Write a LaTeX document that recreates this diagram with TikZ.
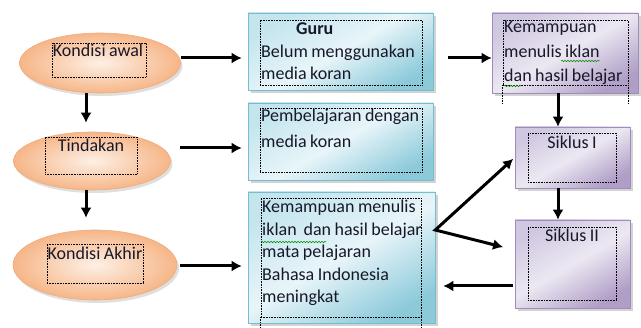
\documentclass[tikz,border=0pt]{standalone}
\usepackage{fontspec}
\setmainfont{Carlito}[WordSpace=0.85]
\usepackage{tikz}
\usetikzlibrary{shapes.geometric}
\usetikzlibrary{shadows}
\usetikzlibrary{decorations.pathmorphing}
\usetikzlibrary{%
  calc,%
  arrows.meta%
}

\definecolor{oranyeluar}{RGB}{246,182,136}
\definecolor{oranyedalam}{RGB}{253,240,230}
\definecolor{oranyegaris}{RGB}{240,172,124}
\definecolor{birutua}{RGB}{140,202,218}
\definecolor{birumuda}{RGB}{232,245,249}
\definecolor{birutengah}{RGB}{196,229,238}
\definecolor{birugaris}{RGB}{120,188,208}
\definecolor{ungutua}{RGB}{176,158,199}
\definecolor{ungumuda}{RGB}{236,232,242}
\definecolor{ungutengah}{RGB}{208,199,224}
\definecolor{ungugaris}{RGB}{160,140,188}
\definecolor{teks}{RGB}{24,24,40}

\tikzset{
  kondisi/.style={ellipse, draw=oranyegaris, line width=0.6pt,
    inner color=oranyedalam, outer color=oranyeluar,
    drop shadow={shadow xshift=2pt, shadow yshift=-3pt, opacity=0.25}},
  kotakbiru/.style={rectangle, draw=birugaris, line width=0.6pt,
    left color=birutengah, right color=birutua, middle color=birumuda,
    shading angle=30,
    drop shadow={shadow xshift=3pt, shadow yshift=-3pt, opacity=0.35}},
  kotakungu/.style={rectangle, draw=ungugaris, line width=0.6pt,
    left color=ungutengah, right color=ungutua, middle color=ungumuda,
    shading angle=30,
    drop shadow={shadow xshift=3pt, shadow yshift=-3pt, opacity=0.35}},
  bingkai/.style={rectangle, draw=black, densely dotted, line width=0.6pt},
  tulisan/.style={inner sep=0pt, text=teks, font=\fontsize{18}{22.5}\selectfont},
  panah/.style={line width=3pt, line join=miter, -{Latex[length=10pt,width=11pt]}},
  ejaan/.style={draw=green!55!black, line width=0.5pt, decorate,
    decoration={snake, amplitude=0.8pt, segment length=3pt}}
}

\begin{document}
\begin{tikzpicture}[x=1pt,y=-1pt]
\useasboundingbox (0,0) rectangle (641,328);

\node[kondisi, minimum width=161pt, minimum height=60pt] (awal) at (100,63) {};
\node[bingkai, minimum width=94pt, minimum height=34pt] (awalbingkai) at (99,60) {};
\node[tulisan, anchor=base] (awalteks) at (98,57) {Kondisi awal};

\node[kondisi, minimum width=157pt, minimum height=58pt] (tindakan) at (92,161) {};
\node[bingkai, minimum width=92pt, minimum height=37pt] (tindakanbingkai) at (91,155.5) {};
\node[tulisan, anchor=base] (tindakanteks) at (91,152) {Tindakan};

\node[kondisi, minimum width=164pt, minimum height=70pt] (akhir) at (95,265) {};
\node[bingkai, minimum width=96pt, minimum height=39pt] (akhirbingkai) at (95,263.5) {};
\node[tulisan, anchor=base] (akhirteks) at (95,260) {Kondisi Akhir};

\node[kotakbiru, minimum width=185pt, minimum height=77pt] (guru) at (340.5,51.5) {};
\node[bingkai, minimum width=162pt, minimum height=65pt] (gurubingkai) at (341,52.5) {};
\node[tulisan, anchor=base west, text width=220pt, align=flush left] (guruteks) at (261,35)
  {\hspace*{35pt}\textbf{Guru}\\Belum menggunakan\\media koran};

\node[kotakbiru, minimum width=185pt, minimum height=77pt] (pembelajaran) at (340.5,141.5) {};
\node[bingkai, minimum width=162pt, minimum height=64pt] (pembelajaranbingkai) at (341,140) {};
\node[tulisan, anchor=base west, text width=220pt, align=flush left,
  font=\fontsize{18}{26}\selectfont] (pembelajaranteks) at (261,122)
  {Pembelajaran dengan\\media koran};

\node[kotakbiru, minimum width=187pt, minimum height=131pt] (hasil) at (341.5,257.5) {};
\node[bingkai, minimum width=160pt, minimum height=119pt] (hasilbingkai) at (341,257.5) {};
\draw[bingkai] (hasilbingkai.south west) -- ++(0,15);
\draw[bingkai] (hasilbingkai.south east) -- ++(0,15);
\node[tulisan, anchor=base west, text width=220pt, align=flush left] (hasilteks) at (262,213)
  {Kemampuan menulis\\iklan \ dan hasil belajar\\mata pelajaran\\Bahasa Indonesia\\meningkat};

\node[kotakungu, minimum width=146pt, minimum height=80pt] (kemampuan) at (565,53) {};
\node[bingkai, minimum width=125pt, minimum height=65pt] (kemampuanbingkai) at (565.5,52.5) {};
\draw[bingkai] (kemampuanbingkai.south west) -- ++(0,18);
\draw[bingkai] (kemampuanbingkai.south east) -- ++(0,18);
\node[tulisan, anchor=base west, text width=200pt, align=flush left,
  font=\fontsize{18}{24.5}\selectfont] (kemampuanteks) at (504,33)
  {Kemampuan\\menulis iklan\\dan hasil belajar};

\node[kotakungu, minimum width=115pt, minimum height=61pt] (siklus1) at (572.5,157.5) {};
\node[bingkai, minimum width=88pt, minimum height=49pt] (siklus1bingkai) at (572,157.5) {};
\node[tulisan, anchor=base] (siklus1teks) at (572,149) {Siklus I};

\node[kotakungu, minimum width=115pt, minimum height=88pt] (siklus2) at (572.5,264) {};
\node[bingkai, minimum width=88pt, minimum height=73pt] (siklus2bingkai) at (572,263.5) {};
\node[tulisan, anchor=base] (siklus2teks) at (572,241.5) {Siklus II};

\draw[ejaan] (561,61) -- (600,61);
\draw[ejaan] (504,86) -- (522,86);
\draw[ejaan] (261,242) -- (326,242);

\draw[panah, shorten >=9pt] (awal.south -| 86,0) -- (tindakan.north -| 86,0);
\draw[panah, shorten >=12pt] (tindakan.south -| 86,0) -- (akhir.north -| 86,0);
\draw[panah, shorten >=6pt] (awal.east |- 0,58) -- (guru.west |- 0,58);
\draw[panah, shorten <=9pt, shorten >=6pt] (tindakan.east |- 0,148) -- (pembelajaran.west |- 0,148);
\draw[panah, shorten <=3pt, shorten >=6pt] (akhir.east |- 0,266) -- (hasil.west |- 0,266);
\draw[panah, shorten <=15pt] (guru.east |- 0,58) -- (kemampuan.west |- 0,58);
\draw[panah] (kemampuan.south -| 558,0) -- (siklus1.north -| 558,0);
\draw[panah] (siklus1.south -| 558,0) -- (siklus2.north -| 558,0);
\coordinate (cabang) at (hasil.east |- 0,230);
\draw[panah, {Latex[length=10pt,width=11pt]}-{Latex[length=10pt,width=11pt]},
  shorten <=2pt, shorten >=12pt] (siklus1.west) -- (cabang) -- (siklus2.west |- 0,250);
\draw[panah, shorten <=2pt, shorten >=8pt] (siklus2.west |- 0,286) -- (hasil.east |- 0,286);
\end{tikzpicture}
\end{document}
